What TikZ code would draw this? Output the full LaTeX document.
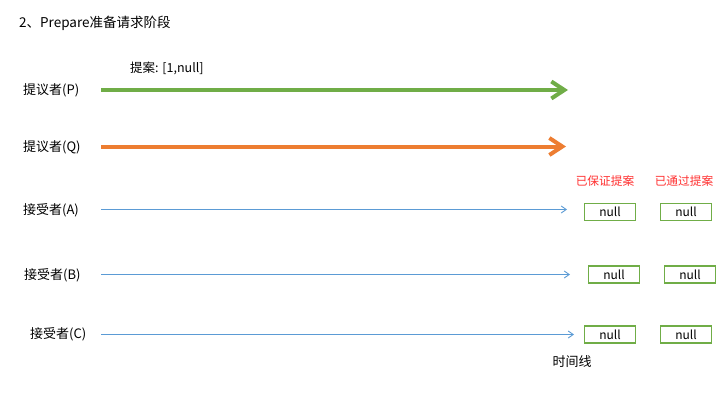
\documentclass[tikz,border=0pt]{standalone}
\usepackage{fontspec}
\setmainfont{Noto Sans CJK SC}
\usetikzlibrary{arrows.meta}
\definecolor{pgreen}{HTML}{70AD47}
\definecolor{porange}{HTML}{ED7D31}
\definecolor{pblue}{HTML}{5B9BD5}
\definecolor{pred}{HTML}{FF3030}
\begin{document}
\begin{tikzpicture}[x=1pt,y=-1pt,
  lbl/.style={anchor=west,inner sep=0pt,font=\fontsize{13}{15}\selectfont},
  redlbl/.style={inner sep=0pt,text=pred,font=\fontsize{11.7}{13}\selectfont},
  valbox/.style={draw=pgreen,line width=1.2pt,minimum width=51pt,minimum height=17pt,inner sep=0pt,font=\fontsize{12}{14}\selectfont},
  thickarrow/.style={line width=4pt,-{Straight Barb[length=13pt,width=17pt]}},
  thinarrow/.style={draw=pblue,line width=0.9pt,-{Straight Barb[length=5pt,width=7pt]}}]
\useasboundingbox[fill=white] (0,0) rectangle (720,405);
\node[lbl,font=\fontsize{13.5}{15}\selectfont] (title) at (19,23) {2、Prepare准备请求阶段};
\node[lbl,font=\fontsize{12.5}{14}\selectfont] (prop) at (130,68) {提案: [1,null]};
\node[lbl] (lp) at (23,90) {提议者(P)};
\node[lbl] (lq) at (23,147) {提议者(Q)};
\node[lbl] (la) at (23,210) {接受者(A)};
\node[lbl] (lb) at (24,275) {接受者(B)};
\node[lbl] (lc) at (30,334) {接受者(C)};
\coordinate (p0) at (101,90); \coordinate (p1) at (568,90);
\coordinate (q0) at (101,146.5); \coordinate (q1) at (566,146.5);
\coordinate (a0) at (101,209.5); \coordinate (a1) at (567,209.5);
\coordinate (b0) at (101,274.5); \coordinate (b1) at (570,274.5);
\coordinate (c0) at (101,334.5); \coordinate (c1) at (574,334.5);
\draw[thickarrow,draw=pgreen] (p0) -- (p1);
\draw[thickarrow,draw=porange] (q0) -- (q1);
\draw[thinarrow] (a0) -- (a1);
\draw[thinarrow] (b0) -- (b1);
\draw[thinarrow] (c0) -- (c1);
\node[redlbl] (h1) at (605,181.5) {已保证提案};
\node[redlbl] (h2) at (684,181.5) {已通过提案};
\node[valbox] (a1box) at (610,212) {null};
\node[valbox] (a2box) at (686,212) {null};
\node[valbox] (b1box) at (614,274.5) {null};
\node[valbox] (b2box) at (690,274.5) {null};
\node[valbox] (c1box) at (610,334.5) {null};
\node[valbox] (c2box) at (686,334.5) {null};
\node[inner sep=0pt,font=\fontsize{13}{15}\selectfont] (tl) at (572,362) {时间线};
\end{tikzpicture}
\end{document}
